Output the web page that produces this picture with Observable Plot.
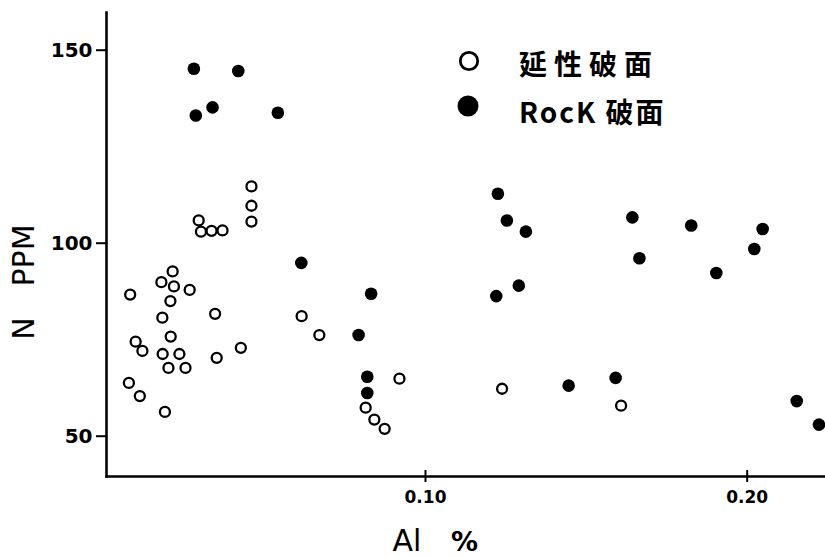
<!DOCTYPE html>
<html><head><meta charset="utf-8">
<script src="https://cdn.jsdelivr.net/npm/d3@7"></script>
<script src="https://cdn.jsdelivr.net/npm/@observablehq/plot@0.6"></script>
<style>
body{margin:0;background:#fff;}
#wrap{position:relative;width:825px;height:558px;overflow:hidden;}
.leg{position:absolute;left:0;top:0;width:825px;height:558px;pointer-events:none;}
</style></head><body><div id="wrap"></div>
<script>
// Ductile fracture surface (open circles)
const ductileAl = [0.0459,0.0459,0.0459,0.0295,0.0302,0.0335,0.0369,0.0082,0.0179,0.0214,0.0218,0.0267,0.0207,0.0346,0.0182,0.0615,0.0670,0.0208,0.0099,0.0120,0.0183,0.0235,0.0351,0.0426,0.0201,0.0254,0.0078,0.0112,0.0190,0.0919,0.0814,0.0841,0.0873,0.1238,0.1608];
const ductileN  = [114.7,109.7,105.6,105.9,103.0,103.2,103.3,86.7,89.9,92.7,88.8,87.9,85.0,81.7,80.7,81.1,76.2,75.8,74.5,72.1,71.3,71.3,70.3,72.9,67.7,67.7,63.8,60.4,56.3,64.9,57.4,54.3,51.9,62.3,57.9];
// Rock fracture surface (filled circles)
const rockAl = [0.0280,0.0418,0.0286,0.0338,0.0541,0.0614,0.0831,0.0792,0.0819,0.0819,0.1225,0.1253,0.1312,0.1643,0.1826,0.2048,0.2022,0.1665,0.1904,0.1220,0.1290,0.1445,0.1591,0.2154,0.2223];
const rockN  = [145.2,144.6,133.1,135.2,133.8,94.9,86.9,76.2,65.4,61.2,112.8,105.9,103.0,106.7,104.6,103.7,98.5,96.1,92.3,86.3,89.0,63.1,65.1,59.1,53.0];
const xTicks = [0.10, 0.20];
const yTicks = [50, 100, 150];
const seriesNames = ["延性破面", "RocK 破面"];
const xLabel = ["Al", "%"];
const yLabel = ["N", "PPM"];

const ductile = ductileAl.map((a, i) => ({al: a, n: ductileN[i]}));
const rock = rockAl.map((a, i) => ({al: a, n: rockN[i]}));

const chart = Plot.plot({
  width: 825, height: 558,
  marginLeft: 106, marginTop: 12, marginBottom: 82, marginRight: 0,
  style: {fontFamily: "DejaVu Sans", color: "#000", background: "#fff"},
  x: {domain: [0.00084, 0.22434]},
  y: {domain: [39.56, 159.77]},
  marks: [
    Plot.frame({anchor: "left", stroke: "#000", strokeWidth: 2.6}),
    Plot.frame({anchor: "bottom", stroke: "#000", strokeWidth: 2.6}),
    Plot.axisY(yTicks, {tickSize: 10, tickPadding: 4, fontSize: 20, fontWeight: "bold", label: null, strokeWidth: 2}),
    Plot.axisX(xTicks, {tickSize: 12, dy: -6, tickFormat: () => "", label: null, strokeWidth: 2}),
    Plot.axisX(xTicks, {tickSize: 0, tickPadding: 14, fontSize: 17, fontWeight: "bold", tickFormat: d => d.toFixed(2), label: null}),
    Plot.text([xLabel[0]], {frameAnchor: "bottom", textAnchor: "middle", lineAnchor: "middle", dx: -59, dy: 65, fontSize: 30}),
    Plot.text([xLabel[1]], {frameAnchor: "bottom", textAnchor: "middle", lineAnchor: "middle", dx: -1.5, dy: 66, fontSize: 27, fontWeight: "bold"}),
    Plot.text([yLabel[0]], {frameAnchor: "left", textAnchor: "middle", lineAnchor: "middle", rotate: -90, dx: -82, dy: 84, fontSize: 30}),
    Plot.text([yLabel[1]], {frameAnchor: "left", textAnchor: "middle", lineAnchor: "middle", rotate: -90, dx: -82, dy: 11, fontSize: 30}),
    Plot.dot(ductile, {x: "al", y: "n", r: 5, stroke: "#000", strokeWidth: 2.3, fill: "#fff"}),
    Plot.dot(rock, {x: "al", y: "n", r: 6.3, fill: "#000", stroke: "none"})
  ]
});
const wrap = document.getElementById("wrap");
wrap.appendChild(chart);

// legend overlay
const ns = "http://www.w3.org/2000/svg";
const leg = document.createElementNS(ns, "svg");
leg.setAttribute("class", "leg");
leg.setAttribute("width", 825); leg.setAttribute("height", 558);
const rows = [{cx: 469, cy: 61, filled: false, tx: 519, ty: 63, ls: 7}, {cx: 468, cy: 106, filled: true, tx: 519, ty: 111, ls: 2}];
rows.forEach((r, i) => {
  const c = document.createElementNS(ns, "circle");
  c.setAttribute("cx", r.cx); c.setAttribute("cy", r.cy);
  c.setAttribute("r", r.filled ? 10.5 : 8.7);
  c.setAttribute("fill", r.filled ? "#000" : "#fff");
  c.setAttribute("stroke", r.filled ? "none" : "#000");
  c.setAttribute("stroke-width", 2.8);
  leg.appendChild(c);
  const t = document.createElementNS(ns, "text");
  t.setAttribute("x", r.tx); t.setAttribute("y", r.ty);
  t.setAttribute("dominant-baseline", "central");
  t.setAttribute("font-family", "'Noto Sans CJK JP', 'DejaVu Sans'");
  t.setAttribute("font-size", 28);
  t.setAttribute("font-weight", "bold");
  t.setAttribute("letter-spacing", r.ls);
  t.textContent = seriesNames[i];
  leg.appendChild(t);
});
wrap.appendChild(leg);
</script>
</body></html>
